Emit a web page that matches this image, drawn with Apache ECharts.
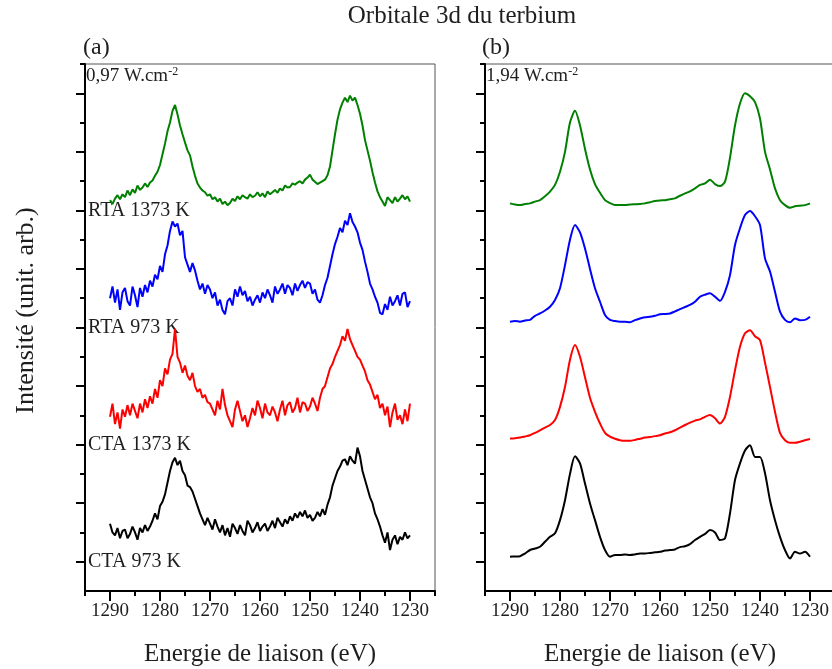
<!DOCTYPE html>
<html>
<head>
<meta charset="utf-8">
<script src="https://cdn.jsdelivr.net/npm/echarts@6/dist/echarts.min.js"></script>
<style>html,body{margin:0;padding:0;background:#fff;}#c{width:832px;height:669px;}</style>
</head>
<body>
<div id="c"></div>
<script>
// ---- data ----
const energyA = [1290,1289.5,1289,1288.5,1288,1287.5,1287,1286.5,1286,1285.5,1285,1284.5,1284,1283.5,1283,1282.5,1282,1281.5,1281,1280.5,1280,1279.5,1279,1278.5,1278,1277.5,1277,1276.5,1276,1275.5,1275,1274.5,1274,1273.5,1273,1272.5,1272,1271.5,1271,1270.5,1270,1269.5,1269,1268.5,1268,1267.5,1267,1266.5,1266,1265.5,1265,1264.5,1264,1263.5,1263,1262.5,1262,1261.5,1261,1260.5,1260,1259.5,1259,1258.5,1258,1257.5,1257,1256.5,1256,1255.5,1255,1254.5,1254,1253.5,1253,1252.5,1252,1251.5,1251,1250.5,1250,1249.5,1249,1248.5,1248,1247.5,1247,1246.5,1246,1245.5,1245,1244.5,1244,1243.5,1243,1242.5,1242,1241.5,1241,1240.5,1240,1239.5,1239,1238.5,1238,1237.5,1237,1236.5,1236,1235.5,1235,1234.5,1234,1233.5,1233,1232.5,1232,1231.5,1231,1230.5,1230];
const energyB = [1290,1289,1288,1287,1286,1285,1284,1283,1282,1281,1280,1279,1278,1277,1276,1275,1274,1273,1272,1271,1270,1269,1268,1267,1266,1265,1264,1263,1262,1261,1260,1259,1258,1257,1256,1255,1254,1253,1252,1251,1250,1249,1248,1247,1246,1245,1244,1243,1242,1241,1240,1239,1238,1237,1236,1235,1234,1233,1232,1231,1230];

// panel (a) 0,97 W.cm-2 (offset intensities)
const rta1373A = [1335,1322,1340,1352,1338,1355,1345,1368,1352,1372,1360,1385,1370,1378,1392,1380,1395,1402,1418,1432,1455,1492,1528,1570,1600,1640,1660,1628,1590,1560,1532,1505,1488,1450,1418,1392,1378,1368,1362,1350,1355,1338,1345,1330,1340,1322,1330,1318,1325,1340,1332,1348,1338,1352,1345,1340,1355,1345,1350,1362,1348,1358,1345,1365,1355,1362,1370,1360,1375,1368,1385,1378,1380,1392,1388,1395,1400,1392,1405,1412,1422,1405,1398,1390,1395,1400,1405,1420,1450,1505,1560,1610,1645,1668,1685,1670,1692,1675,1685,1660,1630,1590,1540,1505,1470,1430,1395,1365,1345,1330,1315,1345,1335,1325,1345,1330,1340,1352,1338,1348,1330];
const rta973A = [1000,1040,985,1030,960,1020,1035,990,975,1040,1010,970,1035,1005,1045,1020,1060,1040,1080,1065,1110,1090,1150,1180,1230,1262,1245,1255,1215,1230,1140,1115,1090,1120,1095,1060,1030,1050,1015,1045,1030,1000,1020,975,995,960,945,990,1000,975,1030,1005,1040,1010,1025,990,1005,975,995,1010,985,1020,1000,1030,1010,985,1040,1015,1030,1050,1015,1045,1035,1010,1050,1025,1045,1060,1035,1055,1050,1015,1030,995,985,1010,1045,1070,1110,1150,1185,1210,1240,1225,1265,1250,1290,1260,1245,1225,1190,1165,1125,1090,1050,1030,1005,985,950,945,980,960,1005,975,990,1010,975,1015,1020,970,990];
const cta1373A = [595,640,570,610,555,620,595,635,600,640,615,590,640,610,655,625,665,640,690,660,720,700,760,740,790,810,895,800,780,745,770,735,720,745,700,680,690,660,670,645,640,620,600,650,620,690,635,600,580,560,620,650,615,580,600,560,590,625,600,650,625,590,640,610,600,630,610,580,620,650,600,635,645,610,625,660,610,645,640,615,630,660,640,615,660,690,700,730,760,775,800,820,840,870,855,895,860,840,820,800,790,770,750,720,705,680,655,670,625,640,600,630,560,610,640,585,600,570,620,580,640];
const cta973A = [230,200,190,215,180,205,210,180,195,220,200,175,215,200,225,205,220,240,265,245,290,305,330,370,410,440,455,430,445,410,395,360,355,340,315,290,265,245,225,250,230,210,245,220,200,225,190,215,185,230,215,195,225,205,190,240,225,200,215,235,205,220,230,205,220,240,215,250,235,220,245,230,255,240,265,250,270,255,275,250,260,240,250,270,255,280,260,295,320,360,385,410,425,445,450,430,460,445,435,490,460,410,380,350,320,300,265,245,220,190,165,200,140,175,190,160,185,175,200,180,190];

// panel (b) 1,94 W.cm-2
const rta1373B = [1324,1320,1318,1322,1324,1330,1335,1348,1364,1387,1432,1500,1600,1640,1590,1510,1440,1390,1360,1335,1325,1318,1318,1318,1320,1321,1322,1324,1328,1332,1334,1335,1338,1341,1350,1358,1365,1375,1387,1392,1405,1390,1383,1398,1480,1590,1665,1700,1690,1670,1614,1500,1440,1375,1335,1318,1309,1314,1316,1318,1324];
const rta973B = [920,922,920,924,926,940,948,958,971,994,1034,1113,1200,1250,1225,1170,1100,1034,988,943,926,922,920,920,918,925,931,935,937,940,945,946,948,955,963,970,977,988,1005,1012,1017,1005,991,1022,1079,1182,1239,1284,1298,1280,1250,1136,1091,1022,954,926,918,931,925,926,937];
const cta1373B = [521,522,524,528,532,540,549,558,567,584,629,697,790,840,800,730,660,612,572,540,527,520,515,513,513,516,520,524,526,529,532,538,542,549,558,567,575,582,586,595,601,590,572,595,663,754,834,880,891,870,857,780,697,612,540,515,506,506,510,515,519];
const cta973B = [117,118,119,128,140,145,151,168,185,197,242,310,400,460,436,367,299,242,185,140,117,123,123,125,123,125,128,128,130,132,134,138,140,142,150,153,160,174,185,195,208,200,174,180,265,379,436,480,498,458,458,402,310,242,185,140,111,134,128,134,117];

// axis ticks and labels
const xMajorTicks = [1230,1240,1250,1260,1270,1280,1290];
const xMinorTicks = [1225,1235,1245,1255,1265,1275,1285,1295];
const yLongTicks = [100,300,500,700,900,1100,1300,1500,1700];
const yShortTicks = [200,400,600,800,1000,1200,1400,1600,1800];
const sampleTickValues = [100,500,900,1300];
const sampleLabels = ['CTA 973 K','CTA 1373 K','RTA 973 K','RTA 1373 K'];
const seriesColors = ['#008000','#0000ff','#ff0000','#000000'];

const FONT = 'Liberation Serif';
const TXT = '#1e1e1e';

function pairs(xs, ys){ return ys.map((v,i)=>[xs[i], v]); }

function xAxes(grid){
  return [
    {type:'value', gridIndex:grid, position:'bottom', inverse:true, min:1225, max:1295,
     axisLine:{show:true, onZero:false, lineStyle:{color:'#000', width:2}},
     axisTick:{show:true, customValues:xMajorTicks, length:10, lineStyle:{color:'#000', width:2}},
     axisLabel:{show:true, customValues:xMajorTicks, margin:11, fontFamily:FONT, fontSize:19, color:TXT,
       formatter:(v)=>String(v)},
     splitLine:{show:false},
     name:'Energie de liaison (eV)', nameLocation:'middle', nameGap:51,
     nameTextStyle:{fontFamily:FONT, fontSize:25, color:TXT}},
    {type:'value', gridIndex:grid, position:'bottom', inverse:true, min:1225, max:1295,
     axisLine:{show:false},
     axisTick:{show:true, customValues:xMinorTicks, length:5, lineStyle:{color:'#000', width:2}},
     axisLabel:{show:false}, splitLine:{show:false}}
  ];
}
function yAxes(grid, withLabels){
  const main = {type:'value', gridIndex:grid, position:'left', min:0, max:1800,
     axisLine:{show:true, onZero:false, lineStyle:{color:'#000', width:2}},
     axisTick:{show:true, customValues:yLongTicks, length:9, lineStyle:{color:'#000', width:2}},
     axisLabel:{show:withLabels, customValues:sampleTickValues, inside:true, margin:3,
       fontFamily:FONT, fontSize:20, color:TXT,
       formatter:(v)=>{const i=sampleTickValues.indexOf(v); return i>=0?sampleLabels[i]:'';}},
     splitLine:{show:false}};
  if(withLabels){
    main.name='Intensité (unit. arb.)';
    main.nameLocation='middle';
    main.nameGap=46;
    main.nameRotate=90;
    main.nameTextStyle={fontFamily:FONT, fontSize:26, color:TXT, padding:[0,0,0,34]};
  }
  return [main,
    {type:'value', gridIndex:grid, position:'left', min:0, max:1800,
     axisLine:{show:false},
     axisTick:{show:true, customValues:yShortTicks, length:5, lineStyle:{color:'#000', width:2}},
     axisLabel:{show:false}, splitLine:{show:false}}];
}

const dataA = [rta1373A, rta973A, cta1373A, cta973A];
const dataB = [rta1373B, rta973B, cta1373B, cta973B];
const series = [];
dataA.forEach((d,i)=>series.push({type:'line', xAxisIndex:0, yAxisIndex:0, data:pairs(energyA,d),
  showSymbol:false, silent:true, lineStyle:{color:seriesColors[i], width:2}, itemStyle:{color:seriesColors[i]}}));
dataB.forEach((d,i)=>series.push({type:'line', xAxisIndex:2, yAxisIndex:2, data:pairs(energyB,d),
  showSymbol:false, silent:true, smooth:0.25, lineStyle:{color:seriesColors[i], width:2}, itemStyle:{color:seriesColors[i]}}));

const chart = echarts.init(document.getElementById('c'), null, {renderer:'canvas'});
chart.setOption({
  animation:false,
  backgroundColor:'#fff',
  title:[
    {text:'Orbitale 3d du terbium', left:462, top:4, textAlign:'center', padding:0,
     textStyle:{fontFamily:FONT, fontSize:25, fontWeight:'normal', color:TXT}},
    {text:'(a)', left:83, top:36, padding:0, textStyle:{fontFamily:FONT, fontSize:24, fontWeight:'normal', color:TXT}},
    {text:'(b)', left:482, top:36, padding:0, textStyle:{fontFamily:FONT, fontSize:24, fontWeight:'normal', color:TXT}},
    {text:'0,97 W.cm{s|-2}', left:86, top:66, padding:0,
     textStyle:{fontFamily:FONT, fontSize:19, fontWeight:'normal', color:TXT,
       rich:{s:{fontFamily:FONT, fontSize:12, color:TXT, verticalAlign:'top', padding:[0,0,8,0]}}}},
    {text:'1,94 W.cm{s|-2}', left:486, top:66, padding:0,
     textStyle:{fontFamily:FONT, fontSize:19, fontWeight:'normal', color:TXT,
       rich:{s:{fontFamily:FONT, fontSize:12, color:TXT, verticalAlign:'top', padding:[0,0,8,0]}}}}
  ],
  grid:[
    {left:85, top:64, width:350, height:527, outerBoundsMode:'none', containLabel:false,
     show:true, borderColor:'#555', borderWidth:1, backgroundColor:'transparent'},
    {left:485, top:64, width:350, height:527, outerBoundsMode:'none', containLabel:false,
     show:true, borderColor:'#555', borderWidth:1, backgroundColor:'transparent'}
  ],
  xAxis:[...xAxes(0), ...xAxes(1)],
  yAxis:[...yAxes(0,true), ...yAxes(1,false)],
  series:series
});
</script>
</body>
</html>
